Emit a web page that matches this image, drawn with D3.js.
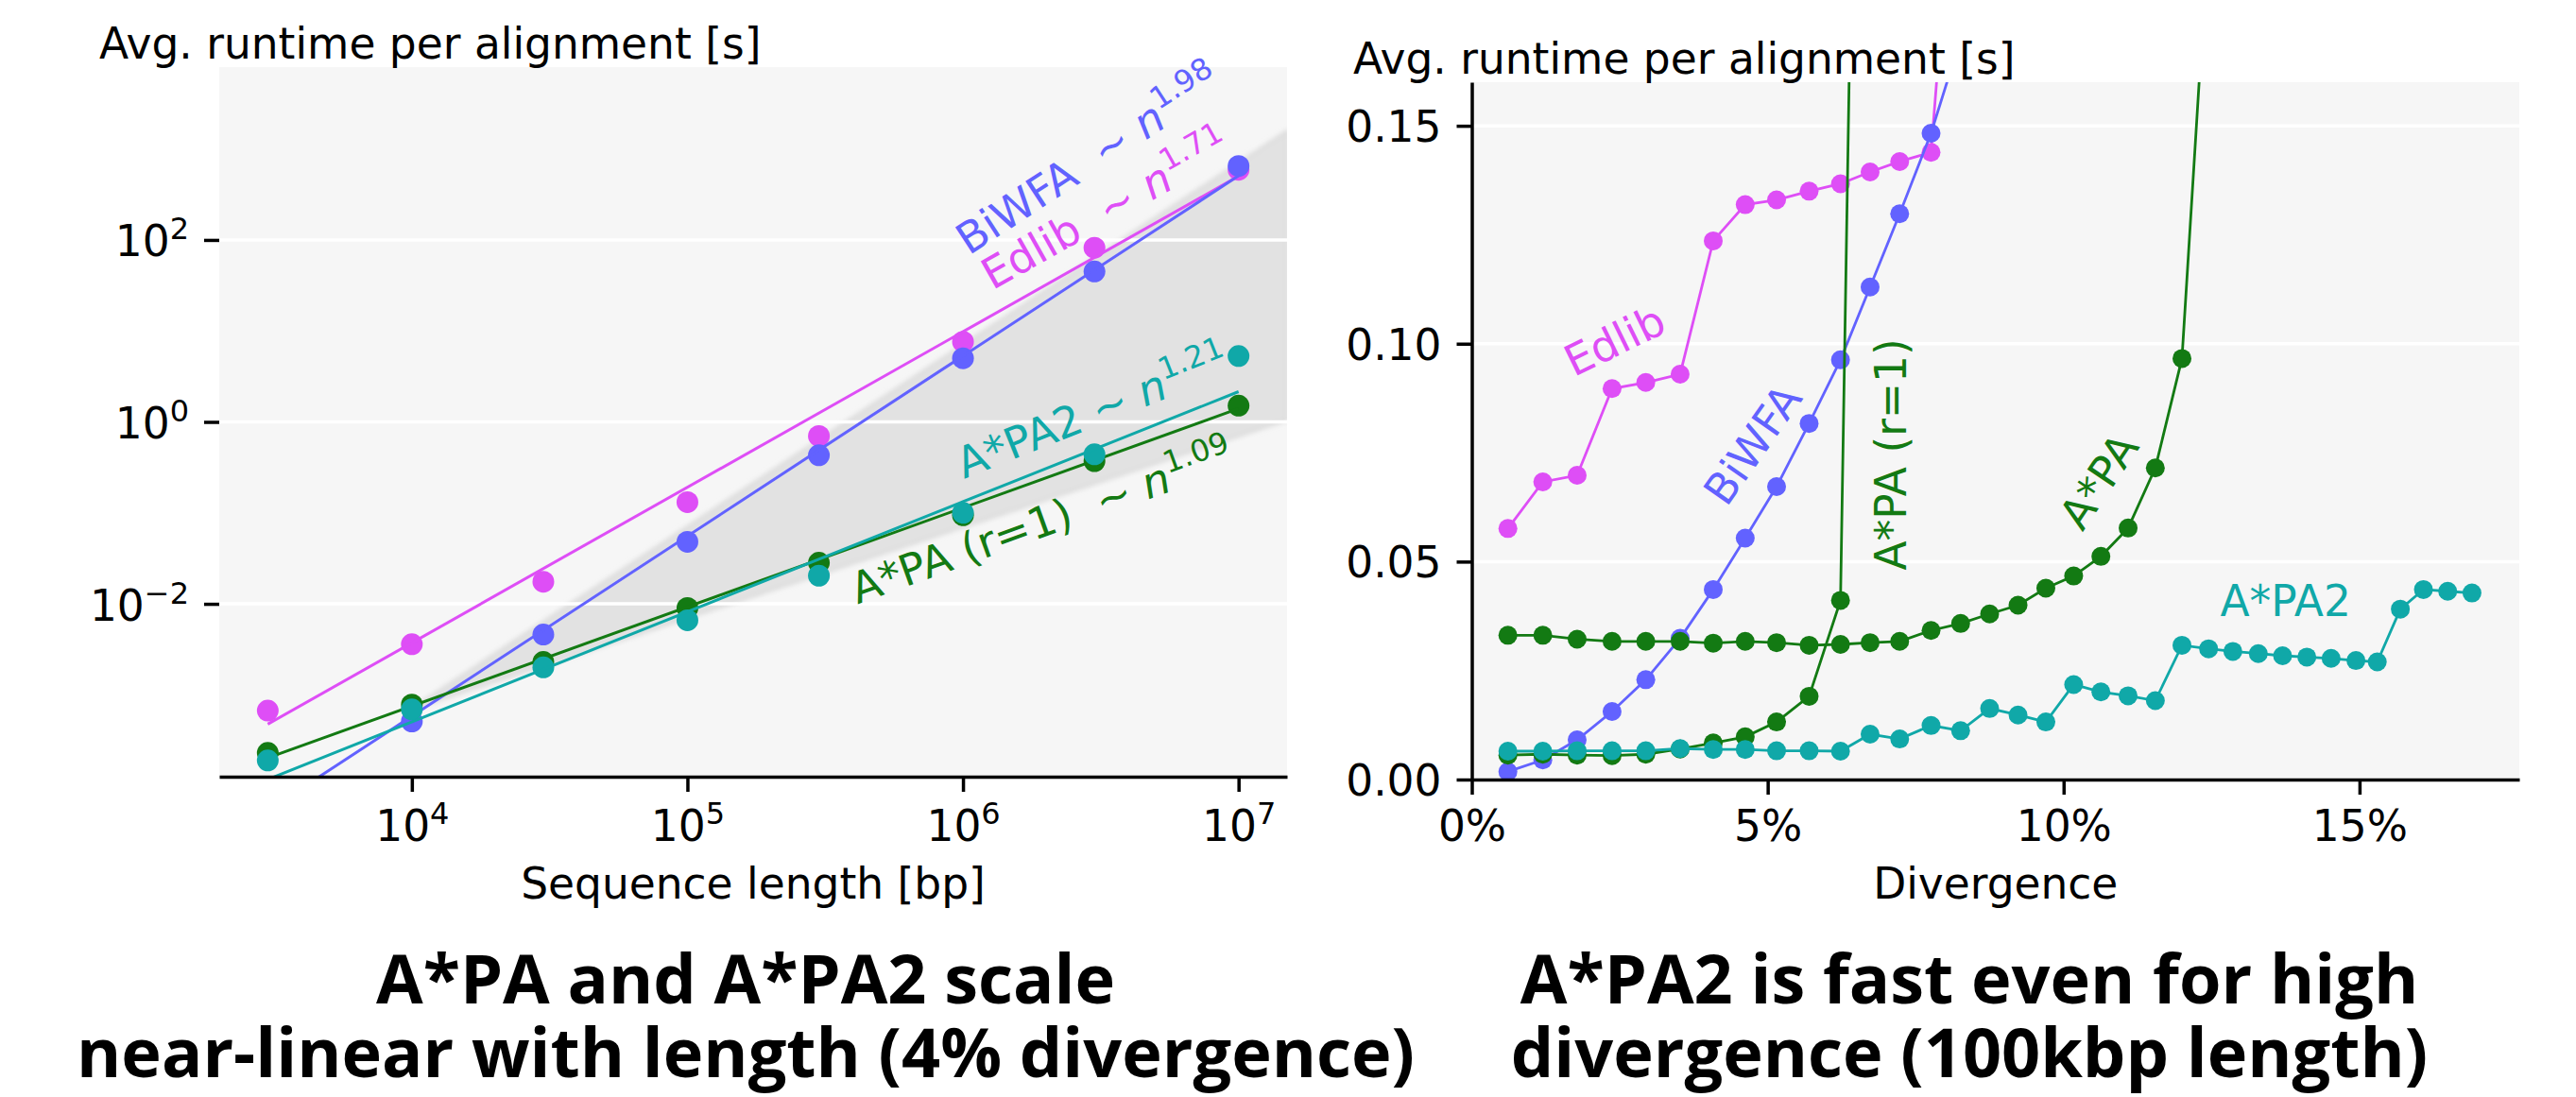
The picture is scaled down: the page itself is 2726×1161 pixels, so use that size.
<!DOCTYPE html>
<html>
<head>
<meta charset="utf-8">
<script src="https://cdn.jsdelivr.net/npm/d3@7"></script>
<style>
  body { margin: 0; background: #fff; }
  svg text { font-family: "DejaVu Sans", sans-serif; }
</style>
</head>
<body>
<div id="chart"></div>
<script>
// ---- left: runtime vs sequence length (4% divergence) ----
var lengths = [3e3, 1e4, 3e4, 1e5, 3e5, 1e6, 3e6, 1e7];
var lenEdlib = [6.7e-4, 3.6e-3, 0.0175, 0.131, 0.70, 7.6, 82, 590];
var lenBiWFA = [null, 5.1e-4, 0.0046, 0.048, 0.43, 5.0, 45, 650];
var lenAstarPA = [2.3e-4, 7.8e-4, 0.0023, 0.0090, 0.0283, 0.094, 0.37, 1.51];
var lenAstarPA2 = [1.9e-4, 6.9e-4, 0.0020, 0.0066, 0.0204, 0.10, 0.44, 5.3];

// power-law fits: exponent and fitted runtime at n = 1e7
var fitExponents = [1.71, 1.98, 1.09, 1.21];
var fitAtMax = [503, 507, 1.4, 2.15];
var fitLabels = ['Edlib  \u223c ', 'BiWFA  \u223c ', 'A*PA (r=1)  \u223c ', 'A*PA2 \u223c '];
var fitLabelAt = [[1.28e6, 27.7], [1.05e6, 67], [4.14e5, 0.0099], [1.01e6, 0.235]];

// grey guide wedge between n^1 and n^2
var wedgeAnchor = [1e4, 7e-4];
var wedgeExponents = [1, 2];

var lenTicks = [1e4, 1e5, 1e6, 1e7];
var lenTickExp = ['4', '5', '6', '7'];
var timeLogTicks = [1e-2, 1, 1e2];
var timeLogTickExp = ['\u22122', '0', '2'];

// ---- right: runtime vs divergence (100kbp) ----
var divergence = [0.61, 1.20, 1.78, 2.37, 2.94, 3.52, 4.08, 4.62, 5.15, 5.70, 6.23, 6.73,
  7.23, 7.76, 8.26, 8.75, 9.23, 9.70, 10.17, 10.63, 11.09, 11.55, 12.00, 12.45, 12.86,
  13.29, 13.70, 14.11, 14.52, 14.94, 15.30, 15.69, 16.08, 16.49, 16.90];
var divEdlib = [0.0576, 0.0683, 0.0698, 0.0897, 0.0911, 0.0930, 0.1236, 0.1319, 0.1330,
  0.1350, 0.1367, 0.1394, 0.1418, 0.1439, 0.23];
var divBiWFA = [0.0018, 0.0045, 0.0091, 0.0156, 0.0229, 0.0324, 0.0436, 0.0554, 0.0672,
  0.0817, 0.0963, 0.1130, 0.1298, 0.1483, 0.17];
var divAstarPAr1 = [0.0056, 0.0058, 0.0056, 0.0055, 0.0058, 0.0070, 0.0084, 0.0098, 0.0132,
  0.0191, 0.0411, 0.45];
var divAstarPA = [0.0331, 0.0331, 0.0322, 0.0317, 0.0317, 0.0317, 0.0313, 0.0317, 0.0314,
  0.0308, 0.0310, 0.0314, 0.0317, 0.0342, 0.0358, 0.0380, 0.0400, 0.0439, 0.0467, 0.0512,
  0.0577, 0.0715, 0.0966, 0.195];
var divAstarPA2 = [0.0065, 0.0065, 0.0066, 0.0066, 0.0066, 0.0071, 0.0069, 0.0069, 0.0066,
  0.0066, 0.0065, 0.0104, 0.0093, 0.0124, 0.0112, 0.0163, 0.0148, 0.0132, 0.0218, 0.0201,
  0.0192, 0.0181, 0.0308, 0.0300, 0.0294, 0.0289, 0.0284, 0.0281, 0.0278, 0.0273, 0.0270,
  0.0391, 0.0436, 0.0432, 0.0428];

var divTicks = [0, 5, 10, 15];
var timeTicks = [0, 0.05, 0.10, 0.15];
var divLabels = ['Edlib', 'BiWFA', 'A*PA (r=1)', 'A*PA', 'A*PA2'];
var divLabelAt = [[2.41, 0.1008], [4.74, 0.0769], [7.07, 0.0746], [10.59, 0.0685], [13.75, 0.0411]];
var divLabelAngle = [-26, -55, -90, -56, 0];

var titles = [
  ['A*PA and A*PA2 scale', 'near-linear with length (4% divergence)'],
  ['A*PA2 is fast even for high', 'divergence (100kbp length)']
];

var COLORS = {edlib: '#de4ef6', biwfa: '#6262ff', apa: '#137a13', apa2: '#10a8a8'};
var FONT = 45.5, SUP = 32, TICK = 16, STROKE = 3.5;

var svg = d3.select('#chart')
  .append('svg')
    .attr('width', 2726)
    .attr('height', 1161)
    .style('display', 'block');

svg.append('rect').attr('width', 2726).attr('height', 1161).attr('fill', '#fff');

var defs = svg.append('defs');
defs.append('filter').attr('id', 'soft')
  .append('feGaussianBlur').attr('stdDeviation', 2.5);

function styleAxis(g) {
  g.attr('font-size', null).attr('font-family', null);
  g.selectAll('line').attr('stroke', '#000').attr('stroke-width', STROKE);
  g.selectAll('path.domain').attr('stroke', '#000').attr('stroke-width', STROKE);
  g.selectAll('text').attr('fill', '#000').style('font-size', FONT + 'px');
}

function superscript(sel, exps) {
  sel.each(function(d, i) {
    var t = d3.select(this).text('10');
    t.append('tspan').attr('dy', -18).style('font-size', SUP + 'px').text(exps[i]);
  });
}

// =============== LEFT PANEL ===============
var L = {x0: 232, x1: 1362, y0: 71, y1: 822};
var xL = d3.scaleLog().domain([Math.pow(10, 3.301), Math.pow(10, 7.176)]).range([L.x0, L.x1]);
var yL = d3.scaleLog().domain([Math.pow(10, -3.9), Math.pow(10, 3.9)]).range([L.y1, L.y0]);

defs.append('clipPath').attr('id', 'clipL')
  .append('rect').attr('x', L.x0).attr('y', L.y0).attr('width', L.x1 - L.x0).attr('height', L.y1 - L.y0);

svg.append('rect')
  .attr('x', L.x0).attr('y', L.y0)
  .attr('width', L.x1 - L.x0).attr('height', L.y1 - L.y0)
  .attr('fill', '#f6f6f6');

var plotL = svg.append('g').attr('clip-path', 'url(#clipL)');

// wedge
var nMax = xL.domain()[1];
var wedge = [
  [wedgeAnchor[0], wedgeAnchor[1]],
  [nMax, wedgeAnchor[1] * Math.pow(nMax / wedgeAnchor[0], wedgeExponents[1])],
  [nMax, wedgeAnchor[1] * Math.pow(nMax / wedgeAnchor[0], wedgeExponents[0])]
];
plotL.append('polygon')
  .attr('points', wedge.map(function(p) { return xL(p[0]) + ',' + yL(p[1]); }).join(' '))
  .attr('fill', '#e2e2e2')
  .attr('stroke', '#dadada')
  .attr('stroke-width', 3)
  .attr('filter', 'url(#soft)');

plotL.selectAll('.gridL').data(timeLogTicks).enter()
  .append('line')
    .attr('x1', L.x0).attr('x2', L.x1)
    .attr('y1', function(d) { return yL(d); })
    .attr('y2', function(d) { return yL(d); })
    .attr('stroke', '#fff')
    .attr('stroke-width', STROKE);

var lenSeries = [
  {values: lenEdlib, color: COLORS.edlib},
  {values: lenBiWFA, color: COLORS.biwfa},
  {values: lenAstarPA, color: COLORS.apa},
  {values: lenAstarPA2, color: COLORS.apa2}
];

lenSeries.forEach(function(s, i) {
  var pts = lengths.map(function(n, j) { return {n: n, v: s.values[j]}; })
    .filter(function(d) { return d.v != null; });
  plotL.selectAll(null).data(pts).enter()
    .append('circle')
      .attr('cx', function(d) { return xL(d.n); })
      .attr('cy', function(d) { return yL(d.v); })
      .attr('r', 11.5)
      .attr('fill', s.color);
  var nHi = lengths[lengths.length - 1], nLo = lengths[0];
  var fit = [
    [nLo, fitAtMax[i] * Math.pow(nLo / nHi, fitExponents[i])],
    [nHi, fitAtMax[i]]
  ];
  plotL.append('path')
    .attr('d', d3.line().x(function(d) { return xL(d[0]); }).y(function(d) { return yL(d[1]); })(fit))
    .attr('fill', 'none')
    .attr('stroke', s.color)
    .attr('stroke-width', 3);
});

// fit labels, rotated along each fit line
lenSeries.forEach(function(s, i) {
  var dx = xL(10) - xL(1);
  var dy = yL(1) - yL(Math.pow(10, fitExponents[i]));
  var ang = -Math.atan2(dy, dx) * 180 / Math.PI;
  var p = fitLabelAt[i];
  var t = svg.append('text')
    .attr('transform', 'translate(' + xL(p[0]) + ',' + yL(p[1]) + ') rotate(' + ang + ')')
    .attr('fill', s.color)
    .style('font-size', FONT + 'px')
    .style('white-space', 'pre');
  t.append('tspan').text(fitLabels[i]);
  t.append('tspan').style('font-style', 'italic').text('n');
  t.append('tspan').attr('dy', -19).style('font-size', SUP + 'px').text(fitExponents[i].toFixed(2));
});

var axLB = svg.append('g')
  .attr('transform', 'translate(0,' + L.y1 + ')')
  .call(d3.axisBottom(xL).tickValues(lenTicks).tickSize(TICK).tickSizeOuter(0));
styleAxis(axLB);
axLB.selectAll('text').attr('y', 890 - L.y1).attr('dy', null).call(superscript, lenTickExp);

var axLL = svg.append('g')
  .attr('transform', 'translate(' + L.x0 + ',0)')
  .call(d3.axisLeft(yL).tickValues(timeLogTicks).tickSize(TICK).tickSizeOuter(0));
styleAxis(axLL);
axLL.select('path.domain').remove();
axLL.selectAll('text').attr('x', -2 * TICK).attr('dy', null).attr('y', 17).call(superscript, timeLogTickExp);

svg.append('text').attr('x', 105).attr('y', 62).style('font-size', FONT + 'px')
  .text('Avg. runtime per alignment [s]');
svg.append('text').attr('x', (L.x0 + L.x1) / 2).attr('y', 951)
  .attr('text-anchor', 'middle').style('font-size', FONT + 'px')
  .text('Sequence length [bp]');

// =============== RIGHT PANEL ===============
var R = {x0: 1557.5, x1: 2666, y0: 87, y1: 825};
var xR = d3.scaleLinear().domain([0, 17.7]).range([R.x0, R.x1]);
var yR = d3.scaleLinear().domain([0, 0.16]).range([R.y1, R.y0]);

defs.append('clipPath').attr('id', 'clipR')
  .append('rect').attr('x', R.x0).attr('y', R.y0).attr('width', R.x1 - R.x0).attr('height', R.y1 - R.y0);

svg.append('rect')
  .attr('x', R.x0).attr('y', R.y0)
  .attr('width', R.x1 - R.x0).attr('height', R.y1 - R.y0)
  .attr('fill', '#f6f6f6');

var plotR = svg.append('g').attr('clip-path', 'url(#clipR)');

plotR.selectAll('.gridR').data(timeTicks).enter()
  .append('line')
    .attr('x1', R.x0).attr('x2', R.x1)
    .attr('y1', function(d) { return yR(d); })
    .attr('y2', function(d) { return yR(d); })
    .attr('stroke', '#fff')
    .attr('stroke-width', STROKE);

var divSeries = [
  {values: divEdlib, color: COLORS.edlib},
  {values: divBiWFA, color: COLORS.biwfa},
  {values: divAstarPAr1, color: COLORS.apa},
  {values: divAstarPA, color: COLORS.apa},
  {values: divAstarPA2, color: COLORS.apa2}
];

var lineR = d3.line()
  .x(function(d) { return xR(d.x); })
  .y(function(d) { return yR(d.v); });

divSeries.forEach(function(s) {
  var pts = s.values.map(function(v, j) { return {x: divergence[j], v: v}; });
  plotR.append('path')
    .attr('d', lineR(pts))
    .attr('fill', 'none')
    .attr('stroke', s.color)
    .attr('stroke-width', 2.8);
  plotR.selectAll(null).data(pts).enter()
    .append('circle')
      .attr('cx', function(d) { return xR(d.x); })
      .attr('cy', function(d) { return yR(d.v); })
      .attr('r', 10)
      .attr('fill', s.color);
});

divSeries.forEach(function(s, i) {
  var p = divLabelAt[i];
  svg.append('text')
    .attr('transform', 'translate(' + xR(p[0]) + ',' + yR(p[1]) + ') rotate(' + divLabelAngle[i] + ')')
    .attr('text-anchor', 'middle')
    .attr('dy', '0.36em')
    .attr('fill', s.color)
    .style('font-size', FONT + 'px')
    .text(divLabels[i]);
});

var axRB = svg.append('g')
  .attr('transform', 'translate(0,' + R.y1 + ')')
  .call(d3.axisBottom(xR).tickValues(divTicks).tickSize(TICK).tickSizeOuter(0)
    .tickFormat(function(d) { return d + '%'; }));
styleAxis(axRB);
axRB.selectAll('text').attr('y', 890 - R.y1).attr('dy', null);

var axRL = svg.append('g')
  .attr('transform', 'translate(' + R.x0 + ',0)')
  .call(d3.axisLeft(yR).tickValues(timeTicks).tickSize(TICK).tickSizeOuter(0)
    .tickFormat(d3.format('.2f')));
styleAxis(axRL);
axRL.selectAll('text').attr('x', -2 * TICK).attr('dy', null).attr('y', 16.5);

svg.append('text').attr('x', 1432).attr('y', 78).style('font-size', FONT + 'px')
  .text('Avg. runtime per alignment [s]');
svg.append('text').attr('x', (R.x0 + R.x1) / 2).attr('y', 951)
  .attr('text-anchor', 'middle').style('font-size', FONT + 'px')
  .text('Divergence');

// =============== TITLES ===============
// each title is one text block, two lines
var titleX = [789, 2084];
titles.forEach(function(lines, i) {
  var t = svg.append('text')
    .attr('x', titleX[i])
    .attr('y', 1062)
    .attr('text-anchor', 'middle')
    .style('font-family', '"Open Sans", "Noto Sans", sans-serif')
    .style('font-weight', 'bold')
    .style('font-size', '72px');
  lines.forEach(function(line, j) {
    t.append('tspan')
      .attr('x', titleX[i])
      .attr('dy', j === 0 ? 0 : 78)
      .text(line);
  });
});
</script>
</body>
</html>
